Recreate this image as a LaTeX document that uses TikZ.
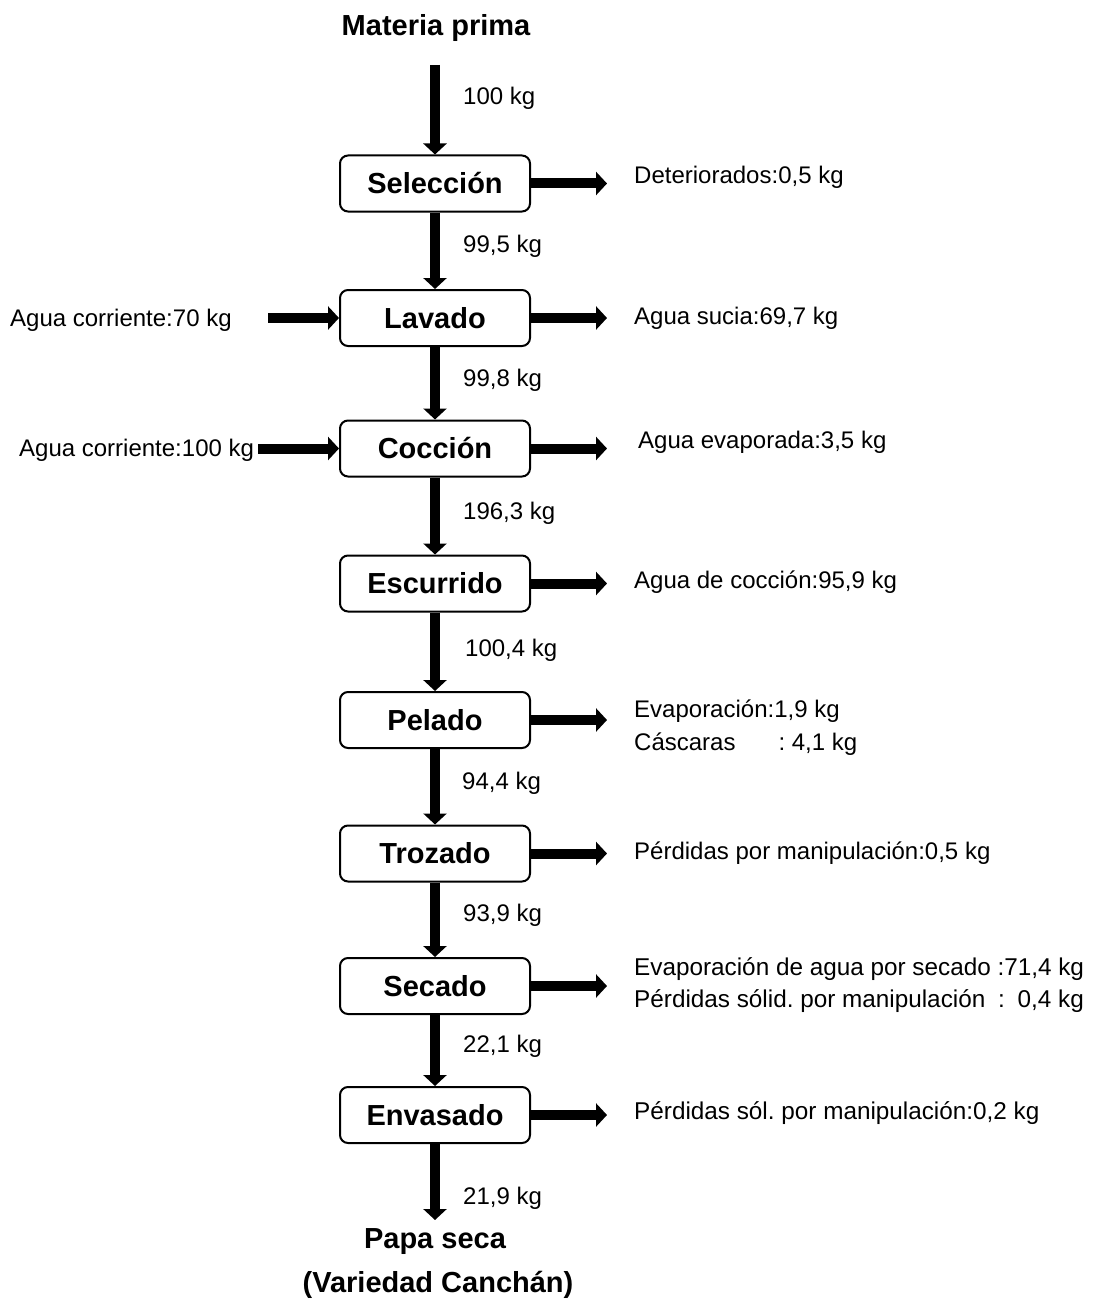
\documentclass[tikz,border=0pt]{standalone}
\usepackage{fontspec}
\setmainfont{Liberation Sans}
\usetikzlibrary{arrows.meta}
\frenchspacing
\begin{document}
\begin{tikzpicture}[x=1pt,y=-1pt,
  proc/.style={draw, line width=2pt, rounded corners=8pt, minimum width=190pt, minimum height=56pt, inner sep=0pt, font=\fontsize{29}{32}\selectfont\bfseries},
  flow/.style={line width=10pt, -{Triangle[width=23pt,length=11pt]}},
  lbl/.style={inner sep=0pt, anchor=west, font=\fontsize{24}{33}\selectfont, align=left},
  lblw/.style={inner sep=0pt, anchor=west, font=\fontsize{24.3}{32}\selectfont, align=left},
  qty/.style={inner sep=0pt, anchor=west, font=\fontsize{24}{28}\selectfont},
  title/.style={inner sep=0pt, font=\fontsize{29}{32}\selectfont\bfseries}]
\useasboundingbox (0,0) rectangle (1099,1308);

% titles
\node[title] (mp) at (436,28) {Materia prima};
\node[title] (ps) at (435,1242) {Papa seca};
\node[title] (var) at (438,1285) {(Variedad Canchán)};

% process boxes
\node[proc] (sel) at (435,183.5) {Selección};
\node[proc] (lav) at (435,318) {Lavado};
\node[proc] (coc) at (435,448.5) {Cocción};
\node[proc] (esc) at (435,583.5) {Escurrido};
\node[proc] (pel) at (435,720) {Pelado};
\node[proc] (tro) at (435,853.5) {Trozado};
\node[proc] (sec) at (435,986) {Secado};
\node[proc] (env) at (435,1115) {Envasado};

% main flow
\coordinate (in0) at (435,65);
\coordinate (out0) at (435,1220);
\draw[flow] (in0) -- (sel.north);
\draw[flow] (sel.south) -- (lav.north);
\draw[flow] (lav.south) -- (coc.north);
\draw[flow] (coc.south) -- (esc.north);
\draw[flow] (esc.south) -- (pel.north);
\draw[flow] (pel.south) -- (tro.north);
\draw[flow] (tro.south) -- (sec.north);
\draw[flow] (sec.south) -- (env.north);
\draw[flow] (env.south) -- (out0);

% flow quantities
\node[qty] (q1) at (463,98) {100 kg};
\node[qty] (q2) at (463,246) {99,5 kg};
\node[qty] (q3) at (463,380) {99,8 kg};
\node[qty] (q4) at (463,513) {196,3 kg};
\node[qty] (q5) at (465,650) {100,4 kg};
\node[qty] (q6) at (462,783) {94,4 kg};
\node[qty] (q7) at (463,915) {93,9 kg};
\node[qty] (q8) at (463,1046) {22,1 kg};
\node[qty] (q9) at (463,1198) {21,9 kg};

% inputs
\node[lbl] (w1) at (10,320) {Agua corriente:70 kg};
\node[lbl] (w2) at (19,450) {Agua corriente:100 kg};
\coordinate (w1s) at (268,318);
\coordinate (w2s) at (258,448.5);
\draw[flow] (w1s) -- (lav.west);
\draw[flow] (w2s) -- (coc.west);

% outputs
\foreach \n in {sel,lav,coc,esc,pel,tro,sec,env}{
  \coordinate (\n-o) at (607,0 |- \n.east);
  \draw[flow] (\n.east) -- (\n-o);
}

\node[lbl] (o1) at (634,177) {Deteriorados:0,5 kg};
\node[lbl] (o2) at (634,318) {Agua sucia:69,7 kg};
\node[lbl] (o3) at (638,442) {Agua evaporada:3,5 kg};
\node[lbl] (o4) at (634,582) {Agua de cocción:95,9 kg};
\node[lbl] (o5) at (634,727.5) {Evaporación:1,9 kg\\Cáscaras\hspace{43pt}: 4,1 kg};
\node[lbl] (o6) at (634,853) {Pérdidas por manipulación:0,5 kg};
\node[lblw] (o7) at (634,985) {Evaporación de agua por secado :71,4 kg\\Pérdidas sólid. por manipulación\hspace{6pt} : \hspace{6pt}0,4 kg};
\node[lblw] (o8) at (634,1113) {Pérdidas sól. por manipulación:0,2 kg};
\end{tikzpicture}
\end{document}
